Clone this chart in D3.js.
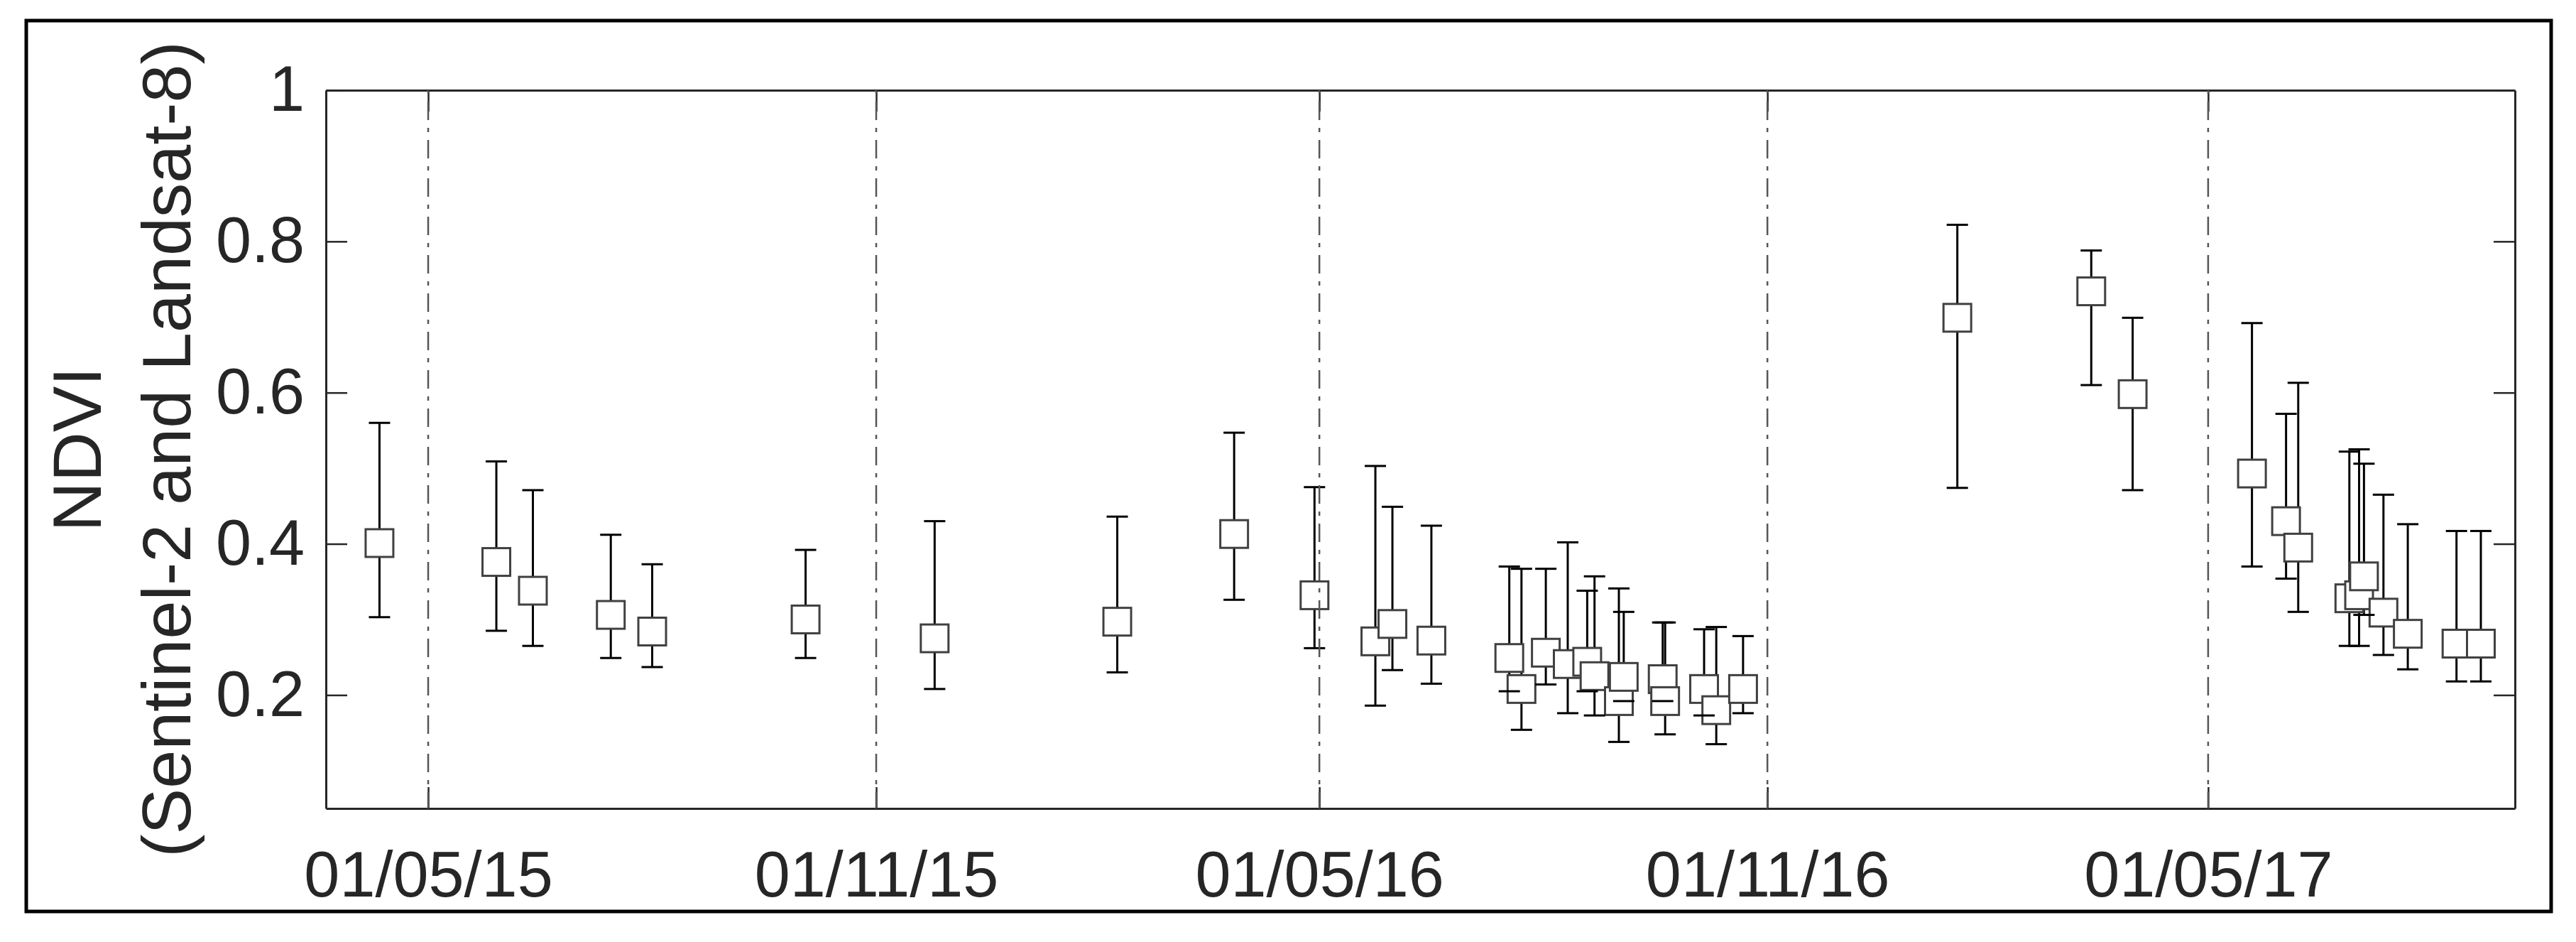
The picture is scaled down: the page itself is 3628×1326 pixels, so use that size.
<!DOCTYPE html>
<meta charset="utf-8">
<style>
  body { margin: 0; background: #fff; }
  text { font-family: "Liberation Sans", Arial, sans-serif; }
</style>
<body>
<svg width="3628" height="1326"></svg>

<script src="https://cdn.jsdelivr.net/npm/d3@7"></script>
<script>

// acquisition dates and NDVI (mean, upper and lower end of the bar)
var dates = ["2015-04-11", "2015-05-29", "2015-06-13", "2015-07-15", "2015-08-01", "2015-10-03",
             "2015-11-25", "2016-02-08", "2016-03-27", "2016-04-29", "2016-05-24", "2016-05-31",
             "2016-06-16", "2016-07-18", "2016-07-23", "2016-08-02", "2016-08-11", "2016-08-19",
             "2016-08-22", "2016-09-01", "2016-09-03", "2016-09-19", "2016-09-20", "2016-10-06",
             "2016-10-11", "2016-10-22", "2017-01-18", "2017-03-14", "2017-03-31", "2017-05-19",
             "2017-06-02", "2017-06-07", "2017-06-28", "2017-07-02", "2017-07-04", "2017-07-12",
             "2017-07-22", "2017-08-11", "2017-08-21"];
var ndvi     = [0.401, 0.376, 0.338, 0.306, 0.284, 0.300, 0.275, 0.297, 0.413, 0.332, 0.271, 0.294,
                0.272, 0.249, 0.208, 0.256, 0.241, 0.244, 0.225, 0.192, 0.224, 0.221, 0.192, 0.208,
                0.180, 0.208, 0.699, 0.734, 0.598, 0.493, 0.430, 0.395, 0.328, 0.332, 0.357, 0.309,
                0.281, 0.268, 0.268];
var ndviHigh = [0.560, 0.509, 0.471, 0.412, 0.373, 0.392, 0.430, 0.436, 0.547, 0.475, 0.503, 0.449,
                0.424, 0.370, 0.367, 0.367, 0.402, 0.338, 0.357, 0.341, 0.310, 0.296, 0.296, 0.287,
                0.290, 0.278, 0.822, 0.788, 0.699, 0.692, 0.572, 0.613, 0.522, 0.525, 0.506, 0.465,
                0.426, 0.417, 0.417];
var ndviLow  = [0.303, 0.285, 0.265, 0.249, 0.237, 0.249, 0.208, 0.230, 0.326, 0.262, 0.186, 0.233,
                0.215, 0.205, 0.154, 0.214, 0.176, 0.205, 0.173, 0.138, 0.192, 0.192, 0.148, 0.173,
                0.135, 0.176, 0.474, 0.610, 0.471, 0.370, 0.354, 0.310, 0.265, 0.265, 0.306, 0.253,
                0.234, 0.218, 0.218];

// x ticks / dash-dot season lines, y ticks
var tickDates = ["2015-05-01", "2015-11-01", "2016-05-01", "2016-11-01", "2017-05-01"];
var yTicks = [0.2, 0.4, 0.6, 0.8, 1];
var dateRange = ["2015-03-20", "2017-09-04"];
var yRange = [0.05, 1];

var svg = d3.select("svg"),
    margin = {top: 127, right: 86, bottom: 188, left: 459},
    width  = +svg.attr("width") - margin.left - margin.right,
    height = +svg.attr("height") - margin.top - margin.bottom;

var parseDate = d3.utcParse("%Y-%m-%d");
var data = dates.map(function(d, i) {
    return {date: parseDate(d), mean: ndvi[i], hi: ndviHigh[i], lo: ndviLow[i]};
});

var x = d3.scaleUtc().domain(dateRange.map(parseDate)).range([0, width]),
    y = d3.scaleLinear().domain(yRange).range([height, 0]);

var ink = "#262626";

// outer frame
svg.append("rect")
    .attr("x", 37).attr("y", 29)
    .attr("width", 3556).attr("height", 1254)
    .attr("fill", "none")
    .attr("stroke", "#000")
    .attr("stroke-width", 5);

var g = svg.append("g")
    .attr("transform", "translate(" + margin.left + "," + margin.top + ")");

// axes (ticks inward, box on all four sides)
var tickVals = tickDates.map(parseDate);

var xAxis = g.append("g")
    .attr("transform", "translate(0," + height + ")")
    .call(d3.axisBottom(x).tickValues(tickVals).tickSize(-30).tickSizeOuter(0)
        .tickPadding(60).tickFormat(d3.utcFormat("%d/%m/%y")));

var xTop = g.append("g")
    .call(d3.axisTop(x).tickValues(tickVals).tickSize(-30).tickSizeOuter(0).tickFormat(""));

var yAxis = g.append("g")
    .call(d3.axisLeft(y).tickValues(yTicks).tickSize(-30).tickSizeOuter(0)
        .tickPadding(30).tickFormat(d3.format("")));

var yRight = g.append("g")
    .attr("transform", "translate(" + width + ",0)")
    .call(d3.axisRight(y).tickValues(yTicks).tickSize(-30).tickSizeOuter(0).tickFormat(""));

[xAxis, xTop, yAxis, yRight].forEach(function(a) {
    a.attr("color", ink);
    a.select(".domain").attr("stroke-width", 3);
    a.selectAll(".tick line").attr("stroke-width", 2.5);
    a.selectAll(".tick text")
        .attr("font-family", "'Liberation Sans', Arial, sans-serif")
        .attr("font-size", 90)
        .attr("fill", ink);
});

// y label, two lines
var ylab = g.append("g")
    .attr("font-family", "'Liberation Sans', Arial, sans-serif")
    .attr("font-size", 97)
    .attr("fill", ink)
    .attr("text-anchor", "middle");

ylab.append("text")
    .attr("transform", "translate(" + (142 - margin.left) + "," + (height / 2) + ") rotate(-90)")
    .text("NDVI");

ylab.append("text")
    .attr("transform", "translate(" + (268 - margin.left) + "," + (height / 2) + ") rotate(-90)")
    .text("(Sentinel-2 and Landsat-8)");

// error bars: whiskers, then boxes, then caps
var marks = g.append("g");
var half = 19.5, cap = 15;

marks.selectAll(".whisker")
    .data(data)
  .enter().append("line")
    .attr("class", "whisker")
    .attr("x1", function(d) { return x(d.date); })
    .attr("x2", function(d) { return x(d.date); })
    .attr("y1", function(d) { return y(d.lo); })
    .attr("y2", function(d) { return y(d.hi); })
    .attr("stroke", "#000")
    .attr("stroke-width", 3);

marks.selectAll(".box")
    .data(data)
  .enter().append("rect")
    .attr("class", "box")
    .attr("x", function(d) { return x(d.date) - half; })
    .attr("y", function(d) { return y(d.mean) - half; })
    .attr("width", half * 2)
    .attr("height", half * 2)
    .attr("fill", "#fff")
    .attr("stroke", "#404040")
    .attr("stroke-width", 3);

["hi", "lo"].forEach(function(k) {
    marks.selectAll(".cap-" + k)
        .data(data)
      .enter().append("line")
        .attr("class", "cap-" + k)
        .attr("x1", function(d) { return x(d.date) - cap; })
        .attr("x2", function(d) { return x(d.date) + cap; })
        .attr("y1", function(d) { return y(d[k]); })
        .attr("y2", function(d) { return y(d[k]); })
        .attr("stroke", "#000")
        .attr("stroke-width", 3);
});

// dash-dot lines at the tick dates
g.selectAll(".season")
    .data(tickVals)
  .enter().append("line")
    .attr("class", "season")
    .attr("x1", function(d) { return x(d); })
    .attr("x2", function(d) { return x(d); })
    .attr("y1", 0)
    .attr("y2", height)
    .attr("stroke", "#555")
    .attr("stroke-width", 2.5)
    .attr("stroke-dasharray", "26,11,6,11")
    .attr("stroke-dashoffset", 38);

</script>
</body>
